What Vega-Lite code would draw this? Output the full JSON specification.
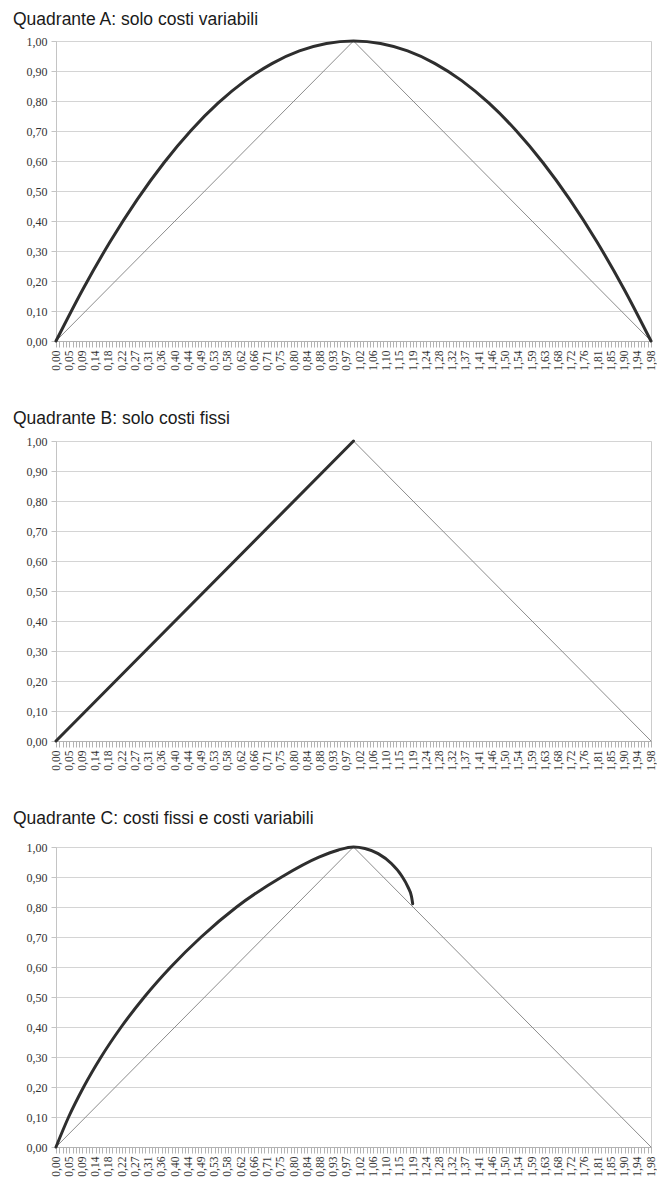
{
  "$schema": "https://vega.github.io/schema/vega-lite/v6.json",
  "padding": {"left": 12, "top": 10, "right": 0, "bottom": 0},
  "spacing": 38,
  "background": "white",
  "config": {
    "view": {"stroke": "#cccccc", "strokeWidth": 1},
    "title": {"font": "Liberation Sans", "fontSize": 17.5, "fontWeight": "normal", "color": "#1a1a1a", "anchor": "start", "frame": "bounds", "dx": -13},
    "line": {"strokeCap": "round", "strokeJoin": "round"}
  },
  "datasets": {
    "tri": [{"x": 0, "y": 0}, {"x": 0.99, "y": 1}, {"x": 1.98, "y": 0}],
    "curveA": [
      {"x": 0, "y": 0}, {"x": 0.09, "y": 0.1736}, {"x": 0.18, "y": 0.3306}, {"x": 0.27, "y": 0.4711},
      {"x": 0.36, "y": 0.595}, {"x": 0.45, "y": 0.7025}, {"x": 0.54, "y": 0.7934}, {"x": 0.63, "y": 0.8678},
      {"x": 0.72, "y": 0.9256}, {"x": 0.81, "y": 0.9669}, {"x": 0.9, "y": 0.9917}, {"x": 0.99, "y": 1},
      {"x": 1.08, "y": 0.9917}, {"x": 1.17, "y": 0.9669}, {"x": 1.26, "y": 0.9256}, {"x": 1.35, "y": 0.8678},
      {"x": 1.44, "y": 0.7934}, {"x": 1.53, "y": 0.7025}, {"x": 1.62, "y": 0.595}, {"x": 1.71, "y": 0.4711},
      {"x": 1.8, "y": 0.3306}, {"x": 1.89, "y": 0.1736}, {"x": 1.98, "y": 0}
    ],
    "curveB": [{"x": 0, "y": 0}, {"x": 0.99, "y": 1}],
    "curveC": [
      {"x": 0, "y": 0}, {"x": 0.042, "y": 0.1}, {"x": 0.092, "y": 0.2}, {"x": 0.15, "y": 0.3},
      {"x": 0.217, "y": 0.4}, {"x": 0.294, "y": 0.5}, {"x": 0.382, "y": 0.6}, {"x": 0.483, "y": 0.7},
      {"x": 0.601, "y": 0.8}, {"x": 0.751, "y": 0.9}, {"x": 0.875, "y": 0.966}, {"x": 0.94, "y": 0.99}, {"x": 0.99, "y": 1},
      {"x": 1.028, "y": 0.995}, {"x": 1.072, "y": 0.978}, {"x": 1.116, "y": 0.945}, {"x": 1.149, "y": 0.906},
      {"x": 1.171, "y": 0.867}, {"x": 1.183, "y": 0.835}, {"x": 1.187, "y": 0.811}
    ]
  },
  "vconcat": [
    {
      "title": {"text": "Quadrante A: solo costi variabili", "offset": 7},
      "width": 595,
      "height": 300,
      "encoding": {
        "x": {"field": "x", "type": "quantitative", "title": null, "scale": {"domain": [0, 1.98], "nice": false, "zero": false},
          "axis": {"values": [0,0.011,0.022,0.033,0.044,0.055,0.066,0.077,0.088,0.099,0.11,0.121,0.132,0.143,0.154,0.165,0.176,0.187,0.198,0.209,0.22,0.231,0.242,0.253,0.264,0.275,0.286,0.297,0.308,0.319,0.33,0.341,0.352,0.363,0.374,0.385,0.396,0.407,0.418,0.429,0.44,0.451,0.462,0.473,0.484,0.495,0.506,0.517,0.528,0.539,0.55,0.561,0.572,0.583,0.594,0.605,0.616,0.627,0.638,0.649,0.66,0.671,0.682,0.693,0.704,0.715,0.726,0.737,0.748,0.759,0.77,0.781,0.792,0.803,0.814,0.825,0.836,0.847,0.858,0.869,0.88,0.891,0.902,0.913,0.924,0.935,0.946,0.957,0.968,0.979,0.99,1.001,1.012,1.023,1.034,1.045,1.056,1.067,1.078,1.089,1.1,1.111,1.122,1.133,1.144,1.155,1.166,1.177,1.188,1.199,1.21,1.221,1.232,1.243,1.254,1.265,1.276,1.287,1.298,1.309,1.32,1.331,1.342,1.353,1.364,1.375,1.386,1.397,1.408,1.419,1.43,1.441,1.452,1.463,1.474,1.485,1.496,1.507,1.518,1.529,1.54,1.551,1.562,1.573,1.584,1.595,1.606,1.617,1.628,1.639,1.65,1.661,1.672,1.683,1.694,1.705,1.716,1.727,1.738,1.749,1.76,1.771,1.782,1.793,1.804,1.815,1.826,1.837,1.848,1.859,1.87,1.881,1.892,1.903,1.914,1.925,1.936,1.947,1.958,1.969,1.98],
            "labelExpr": "round(datum.value/0.011) % 4 == 0 ? ['0,00','0,05','0,09','0,14','0,18','0,22','0,27','0,31','0,36','0,40','0,44','0,49','0,53','0,58','0,62','0,66','0,71','0,75','0,80','0,84','0,88','0,93','0,97','1,02','1,06','1,10','1,15','1,19','1,24','1,28','1,32','1,37','1,41','1,46','1,50','1,54','1,59','1,63','1,68','1,72','1,76','1,81','1,85','1,90','1,94','1,98'][round(datum.value/0.044)] : ''",
            "labelAngle": 270, "labelFont": "Liberation Serif", "labelFontSize": 11.5, "labelColor": "#333333", "labelPadding": 3,
            "labelOverlap": false, "labelFlush": false, "labelBound": false,
            "tickSize": 6, "tickColor": "#b3b3b3", "tickWidth": 1, "domainColor": "#b3b3b3", "domainWidth": 1, "grid": false}},
        "y": {"field": "y", "type": "quantitative", "title": null, "scale": {"domain": [0, 1], "nice": false},
          "axis": {"values": [0,0.1,0.2,0.3,0.4,0.5,0.6,0.7,0.8,0.9,1], "labelExpr": "replace(format(datum.value,'.2f'),'.',',')",
            "labelFont": "Liberation Serif", "labelFontSize": 12, "labelColor": "#333333", "labelPadding": 4,
            "tickSize": 5, "tickColor": "#c4c4c4", "domainColor": "#c4c4c4", "grid": true, "gridColor": "#d4d4d4", "gridWidth": 1}}
      },
      "layer": [
        {"data": {"name": "tri"}, "mark": {"type": "line", "color": "#8c8c8c", "strokeWidth": 1}},
        {"data": {"name": "curveA"}, "mark": {"type": "line", "color": "#2e2e2e", "strokeWidth": 3, "interpolate": "monotone"}}
      ]
    },
    {
      "title": {"text": "Quadrante B: solo costi fissi", "offset": 8},
      "width": 595,
      "height": 300,
      "encoding": {
        "x": {"field": "x", "type": "quantitative", "title": null, "scale": {"domain": [0, 1.98], "nice": false, "zero": false},
          "axis": {"values": [0,0.011,0.022,0.033,0.044,0.055,0.066,0.077,0.088,0.099,0.11,0.121,0.132,0.143,0.154,0.165,0.176,0.187,0.198,0.209,0.22,0.231,0.242,0.253,0.264,0.275,0.286,0.297,0.308,0.319,0.33,0.341,0.352,0.363,0.374,0.385,0.396,0.407,0.418,0.429,0.44,0.451,0.462,0.473,0.484,0.495,0.506,0.517,0.528,0.539,0.55,0.561,0.572,0.583,0.594,0.605,0.616,0.627,0.638,0.649,0.66,0.671,0.682,0.693,0.704,0.715,0.726,0.737,0.748,0.759,0.77,0.781,0.792,0.803,0.814,0.825,0.836,0.847,0.858,0.869,0.88,0.891,0.902,0.913,0.924,0.935,0.946,0.957,0.968,0.979,0.99,1.001,1.012,1.023,1.034,1.045,1.056,1.067,1.078,1.089,1.1,1.111,1.122,1.133,1.144,1.155,1.166,1.177,1.188,1.199,1.21,1.221,1.232,1.243,1.254,1.265,1.276,1.287,1.298,1.309,1.32,1.331,1.342,1.353,1.364,1.375,1.386,1.397,1.408,1.419,1.43,1.441,1.452,1.463,1.474,1.485,1.496,1.507,1.518,1.529,1.54,1.551,1.562,1.573,1.584,1.595,1.606,1.617,1.628,1.639,1.65,1.661,1.672,1.683,1.694,1.705,1.716,1.727,1.738,1.749,1.76,1.771,1.782,1.793,1.804,1.815,1.826,1.837,1.848,1.859,1.87,1.881,1.892,1.903,1.914,1.925,1.936,1.947,1.958,1.969,1.98],
            "labelExpr": "round(datum.value/0.011) % 4 == 0 ? ['0,00','0,05','0,09','0,14','0,18','0,22','0,27','0,31','0,36','0,40','0,44','0,49','0,53','0,58','0,62','0,66','0,71','0,75','0,80','0,84','0,88','0,93','0,97','1,02','1,06','1,10','1,15','1,19','1,24','1,28','1,32','1,37','1,41','1,46','1,50','1,54','1,59','1,63','1,68','1,72','1,76','1,81','1,85','1,90','1,94','1,98'][round(datum.value/0.044)] : ''",
            "labelAngle": 270, "labelFont": "Liberation Serif", "labelFontSize": 11.5, "labelColor": "#333333", "labelPadding": 3,
            "labelOverlap": false, "labelFlush": false, "labelBound": false,
            "tickSize": 6, "tickColor": "#b3b3b3", "tickWidth": 1, "domainColor": "#b3b3b3", "domainWidth": 1, "grid": false}},
        "y": {"field": "y", "type": "quantitative", "title": null, "scale": {"domain": [0, 1], "nice": false},
          "axis": {"values": [0,0.1,0.2,0.3,0.4,0.5,0.6,0.7,0.8,0.9,1], "labelExpr": "replace(format(datum.value,'.2f'),'.',',')",
            "labelFont": "Liberation Serif", "labelFontSize": 12, "labelColor": "#333333", "labelPadding": 4,
            "tickSize": 5, "tickColor": "#c4c4c4", "domainColor": "#c4c4c4", "grid": true, "gridColor": "#d4d4d4", "gridWidth": 1}}
      },
      "layer": [
        {"data": {"name": "tri"}, "mark": {"type": "line", "color": "#8c8c8c", "strokeWidth": 1}},
        {"data": {"name": "curveB"}, "mark": {"type": "line", "color": "#2e2e2e", "strokeWidth": 3}}
      ]
    },
    {
      "title": {"text": "Quadrante C: costi fissi e costi variabili", "offset": 14},
      "width": 595,
      "height": 300,
      "encoding": {
        "x": {"field": "x", "type": "quantitative", "title": null, "scale": {"domain": [0, 1.98], "nice": false, "zero": false},
          "axis": {"values": [0,0.011,0.022,0.033,0.044,0.055,0.066,0.077,0.088,0.099,0.11,0.121,0.132,0.143,0.154,0.165,0.176,0.187,0.198,0.209,0.22,0.231,0.242,0.253,0.264,0.275,0.286,0.297,0.308,0.319,0.33,0.341,0.352,0.363,0.374,0.385,0.396,0.407,0.418,0.429,0.44,0.451,0.462,0.473,0.484,0.495,0.506,0.517,0.528,0.539,0.55,0.561,0.572,0.583,0.594,0.605,0.616,0.627,0.638,0.649,0.66,0.671,0.682,0.693,0.704,0.715,0.726,0.737,0.748,0.759,0.77,0.781,0.792,0.803,0.814,0.825,0.836,0.847,0.858,0.869,0.88,0.891,0.902,0.913,0.924,0.935,0.946,0.957,0.968,0.979,0.99,1.001,1.012,1.023,1.034,1.045,1.056,1.067,1.078,1.089,1.1,1.111,1.122,1.133,1.144,1.155,1.166,1.177,1.188,1.199,1.21,1.221,1.232,1.243,1.254,1.265,1.276,1.287,1.298,1.309,1.32,1.331,1.342,1.353,1.364,1.375,1.386,1.397,1.408,1.419,1.43,1.441,1.452,1.463,1.474,1.485,1.496,1.507,1.518,1.529,1.54,1.551,1.562,1.573,1.584,1.595,1.606,1.617,1.628,1.639,1.65,1.661,1.672,1.683,1.694,1.705,1.716,1.727,1.738,1.749,1.76,1.771,1.782,1.793,1.804,1.815,1.826,1.837,1.848,1.859,1.87,1.881,1.892,1.903,1.914,1.925,1.936,1.947,1.958,1.969,1.98],
            "labelExpr": "round(datum.value/0.011) % 4 == 0 ? ['0,00','0,05','0,09','0,14','0,18','0,22','0,27','0,31','0,36','0,40','0,44','0,49','0,53','0,58','0,62','0,66','0,71','0,75','0,80','0,84','0,88','0,93','0,97','1,02','1,06','1,10','1,15','1,19','1,24','1,28','1,32','1,37','1,41','1,46','1,50','1,54','1,59','1,63','1,68','1,72','1,76','1,81','1,85','1,90','1,94','1,98'][round(datum.value/0.044)] : ''",
            "labelAngle": 270, "labelFont": "Liberation Serif", "labelFontSize": 11.5, "labelColor": "#333333", "labelPadding": 3,
            "labelOverlap": false, "labelFlush": false, "labelBound": false,
            "tickSize": 6, "tickColor": "#b3b3b3", "tickWidth": 1, "domainColor": "#b3b3b3", "domainWidth": 1, "grid": false}},
        "y": {"field": "y", "type": "quantitative", "title": null, "scale": {"domain": [0, 1], "nice": false},
          "axis": {"values": [0,0.1,0.2,0.3,0.4,0.5,0.6,0.7,0.8,0.9,1], "labelExpr": "replace(format(datum.value,'.2f'),'.',',')",
            "labelFont": "Liberation Serif", "labelFontSize": 12, "labelColor": "#333333", "labelPadding": 4,
            "tickSize": 5, "tickColor": "#c4c4c4", "domainColor": "#c4c4c4", "grid": true, "gridColor": "#d4d4d4", "gridWidth": 1}}
      },
      "layer": [
        {"data": {"name": "tri"}, "mark": {"type": "line", "color": "#8c8c8c", "strokeWidth": 1}},
        {"data": {"name": "curveC"}, "mark": {"type": "line", "color": "#2e2e2e", "strokeWidth": 3, "interpolate": "monotone"}}
      ]
    }
  ]
}
